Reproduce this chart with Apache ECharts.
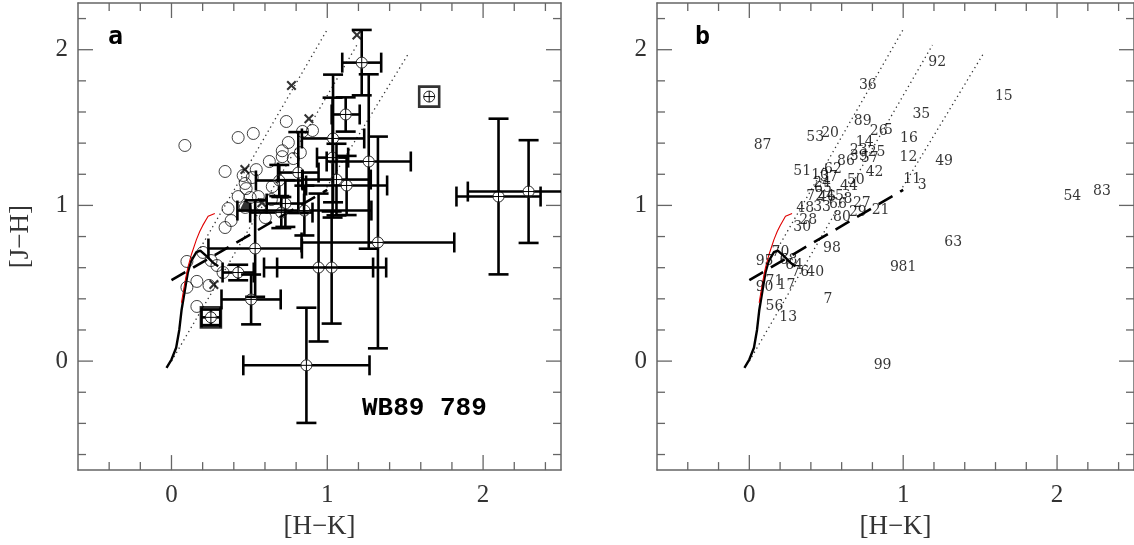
<!DOCTYPE html>
<html><head><meta charset="utf-8">
<script src="https://cdn.jsdelivr.net/npm/echarts@6/dist/echarts.min.js"></script>
<style>html,body{margin:0;padding:0;background:#fff}#c{width:1134px;height:545px}</style>
</head><body><div id="c"></div>
<script>
// ---- source catalogue (panel b labels, panel a markers) ----
const srcLabels = ['87','36','92','15','35','89','53','20','26','5','16','14','23','39','25','57','12','49','86','42','51','10','62','37','50','44','11','3','24','65','72','46','45','8','48','33','66','27','29','80','21','28','30','98','63','54','83','70','95','68','64','76','40','9','81','71','17','90','56','13','7','99'];
const srcHK = [0.086,0.770,1.221,1.654,1.118,0.737,0.428,0.525,0.841,0.905,1.037,0.750,0.711,0.711,0.827,0.782,1.034,1.266,0.628,0.814,0.344,0.460,0.544,0.518,0.692,0.647,1.059,1.124,0.473,0.479,0.428,0.505,0.557,0.641,0.363,0.473,0.576,0.731,0.705,0.602,0.853,0.383,0.344,0.537,1.325,2.099,2.292,0.202,0.099,0.254,0.292,0.331,0.428,0.944,1.028,0.163,0.241,0.099,0.163,0.253,0.511,0.866];
const srcJH = [1.385,1.770,1.917,1.699,1.584,1.539,1.436,1.462,1.475,1.481,1.430,1.404,1.351,1.313,1.339,1.301,1.307,1.282,1.282,1.211,1.218,1.192,1.230,1.179,1.160,1.121,1.166,1.128,1.141,1.108,1.057,1.051,1.057,1.038,0.980,0.987,1.006,1.012,0.954,0.922,0.967,0.903,0.858,0.723,0.762,1.057,1.089,0.698,0.640,0.646,0.614,0.569,0.569,0.601,0.601,0.512,0.486,0.474,0.351,0.281,0.396,-0.027];
// marker kind in panel a: o = open circle, e = circle-plus with error bars, x = cross, b = boxed circle-plus
const srcKind = ['o','x','e','b','e','o','o','o','o','o','e','o','o','o','o','o','e','e','o','e','o','o','o','o','e','o','e','e','o','o','o','o','o','o','o','o','o','e','e','o','e','o','o','e','e','e','e','o','o','o','o','o','e','e','e','o','o','o','o','b','e','e'];
// half-widths of error bars in [H-K] and [J-H] (0 = none)
const srcErrHK = [0,0,0.125,0,0.09,0,0,0,0,0,0.2,0,0,0,0,0,0.1,0.27,0,0.13,0,0,0,0,0.15,0,0.22,0.26,0,0,0,0,0,0,0,0,0,0.12,0.2,0,0.43,0,0,0.3,0.49,0.27,0.39,0,0,0,0,0,0.1,0.35,0.35,0,0,0,0,0.06,0.19,0.405];
const srcErrJH = [0,0,0.21,0,0.11,0,0,0,0,0,0.41,0,0,0,0,0,0.385,0.56,0,0.26,0,0,0,0,0.1,0,0.23,0.19,0,0,0,0,0,0,0,0,0,0.15,0.1,0,0.16,0,0,0.31,0.68,0.5,0.33,0,0,0,0,0,0.05,0.475,0.36,0,0,0,0,0.05,0.16,0.37];
// unlabeled markers in panel a
const crossHK = [1.19,0.882,0.471,0.58,0.272];
const crossJH = [2.095,1.556,1.23,1.017,0.492];
const triHK = [0.478];
const triJH = [1.005];
// loci
const dwarfHK = [-0.032,0.0,0.03,0.05,0.065,0.085,0.105,0.125,0.16,0.185,0.225,0.267,0.30];
const dwarfJH = [-0.043,0.01,0.086,0.2,0.33,0.45,0.57,0.64,0.70,0.71,0.674,0.632,0.61];
const giantHK = [0.064,0.085,0.105,0.128,0.16,0.182,0.2,0.235,0.278];
const giantJH = [0.375,0.5,0.6,0.685,0.78,0.834,0.87,0.93,0.948];
const cttsHK = [0.0,1.0];
const cttsJH = [0.52,1.10];
const red1HK = [0.17,1.0], red1JH = [0.70,2.13];
const red2HK = [0.0,1.19], red2JH = [0.0,2.03];
const red3HK = [0.98,1.526], red3JH = [1.09,1.983];
// ticks
const xMinorTicks = [-0.4,-0.2,0.2,0.4,0.6,0.8,1.2,1.4,1.6,1.8,2.2,2.4];
const xMajorTicks = [0,1,2];
const yMinorTicks = [-0.6,-0.4,-0.2,0.2,0.4,0.6,0.8,1.2,1.4,1.6,1.8,2.2];
const yMajorTicks = [0,1,2];

const SERIF = "'Liberation Serif','DejaVu Serif',serif";
const zip = (a,b) => a.map((v,i)=>[v,b[i]]);

const chart = echarts.init(document.getElementById('c'));
const grids = [
  {left:78, top:3, width:483, height:467.5},
  {left:657, top:3, width:483, height:467.5}
];
const xAxes = [], yAxes = [], series = [];
const isInt = v => Math.abs(v - Math.round(v)) < 1e-6 && Math.round(v) >= 0 && Math.round(v) <= 2;
for (let g = 0; g < 2; g++) {
  xAxes.push({gridIndex:g, type:'value', min:-0.6, max:2.5, interval:0.2, position:'bottom',
    axisLine:{show:true, onZero:false, lineStyle:{color:'#666', width:1.5}}, axisTick:{show:false}, splitLine:{show:false},
    axisLabel:{formatter:v=>isInt(v)?String(Math.round(v)):'', fontFamily:SERIF, fontSize:25, color:'#333', margin:13, showMinLabel:false, showMaxLabel:false},
    name:'[H\u2212K]', nameLocation:'middle', nameGap:40, nameTextStyle:{fontFamily:SERIF, fontSize:27, color:'#333'}});
  xAxes.push({gridIndex:g, type:'value', min:-0.6, max:2.5, interval:0.2, position:'top',
    axisLine:{show:true, onZero:false, lineStyle:{color:'#666', width:1.5}}, axisTick:{show:false}, splitLine:{show:false}, axisLabel:{show:false}});
  yAxes.push({gridIndex:g, type:'value', min:-0.7, max:2.3, interval:0.1, position:'left',
    axisLine:{show:true, onZero:false, lineStyle:{color:'#666', width:1.5}}, axisTick:{show:false}, splitLine:{show:false},
    axisLabel:{formatter:v=>isInt(v)?String(Math.round(v)):'', fontFamily:SERIF, fontSize:25, color:'#333', margin:10, showMinLabel:false, showMaxLabel:false},
    name: g===0 ? '[J\u2212H]' : '', nameLocation:'middle', nameGap:44, nameTextStyle:{fontFamily:SERIF, fontSize:27, color:'#333'}});
  yAxes.push({gridIndex:g, type:'value', min:-0.7, max:2.3, interval:0.1, position:'right',
    axisLine:{show:true, onZero:false, lineStyle:{color:'#666', width:1.5}}, axisTick:{show:false}, splitLine:{show:false}, axisLabel:{show:false}});
}
const xi = g => g*2, yi = g => g*2;

// ticks
const tickData = [];
xMinorTicks.forEach(v=>tickData.push([v,0,8]));
xMajorTicks.forEach(v=>tickData.push([v,0,15]));
yMinorTicks.forEach(v=>tickData.push([v,1,8]));
yMajorTicks.forEach(v=>tickData.push([v,1,15]));
function renderTick(params, api) {
  const cs = params.coordSys;
  const v = api.value(0), ax = api.value(1), len = api.value(2);
  const st = {stroke:'#666', lineWidth:1.3};
  if (ax === 0) {
    const px = api.coord([v, 0])[0];
    return {type:'group', children:[
      {type:'line', shape:{x1:px, y1:cs.y+cs.height, x2:px, y2:cs.y+cs.height-len}, style:st},
      {type:'line', shape:{x1:px, y1:cs.y, x2:px, y2:cs.y+len}, style:st}]};
  } else {
    const py = api.coord([0, v])[1];
    return {type:'group', children:[
      {type:'line', shape:{x1:cs.x, y1:py, x2:cs.x+len, y2:py}, style:st},
      {type:'line', shape:{x1:cs.x+cs.width, y1:py, x2:cs.x+cs.width-len, y2:py}, style:st}]};
  }
}

function lineSeries(g, hk, jh, style) {
  return {type:'line', xAxisIndex:xi(g), yAxisIndex:yi(g), data:zip(hk,jh), symbol:'none', silent:true,
    lineStyle:style, z:3, animation:false};
}

const errData = [], circData = [], crossData = [], boxData = [];
srcLabels.forEach((l,i)=>{
  const k = srcKind[i];
  if (k==='o') circData.push([srcHK[i],srcJH[i]]);
  else if (k==='x') crossData.push([srcHK[i],srcJH[i]]);
  else {
    errData.push([srcHK[i],srcJH[i],srcErrHK[i],srcErrJH[i]]);
    if (k==='b') boxData.push([srcHK[i],srcJH[i]]);
  }
});
crossHK.forEach((v,i)=>crossData.push([v,crossJH[i]]));

function renderErr(params, api) {
  const x = api.value(0), y = api.value(1), ex = api.value(2), ey = api.value(3);
  const c = api.coord([x,y]);
  const ch = [];
  const st = {stroke:'#000', lineWidth:2.6};
  const cap = 10;
  if (ex > 0) {
    const l = api.coord([x-ex,y])[0], r = api.coord([x+ex,y])[0];
    ch.push({type:'line', shape:{x1:l,y1:c[1],x2:c[0]-5.5,y2:c[1]}, style:st});
    ch.push({type:'line', shape:{x1:c[0]+5.5,y1:c[1],x2:r,y2:c[1]}, style:st});
    ch.push({type:'line', shape:{x1:l,y1:c[1]-cap,x2:l,y2:c[1]+cap}, style:st});
    ch.push({type:'line', shape:{x1:r,y1:c[1]-cap,x2:r,y2:c[1]+cap}, style:st});
  }
  if (ey > 0) {
    const t = api.coord([x,y+ey])[1], b = api.coord([x,y-ey])[1];
    ch.push({type:'line', shape:{x1:c[0],y1:t,x2:c[0],y2:c[1]-5.5}, style:st});
    ch.push({type:'line', shape:{x1:c[0],y1:c[1]+5.5,x2:c[0],y2:b}, style:st});
    ch.push({type:'line', shape:{x1:c[0]-cap,y1:t,x2:c[0]+cap,y2:t}, style:st});
    ch.push({type:'line', shape:{x1:c[0]-cap,y1:b,x2:c[0]+cap,y2:b}, style:st});
  }
  const thin = {stroke:'#000', lineWidth:1, fill:null};
  ch.push({type:'circle', shape:{cx:c[0],cy:c[1],r:5.5}, style:{stroke:'#222', lineWidth:1, fill:'rgba(0,0,0,0)'}});
  ch.push({type:'line', shape:{x1:c[0]-5.5,y1:c[1],x2:c[0]+5.5,y2:c[1]}, style:thin});
  ch.push({type:'line', shape:{x1:c[0],y1:c[1]-5.5,x2:c[0],y2:c[1]+5.5}, style:thin});
  return {type:'group', children:ch};
}

for (let g = 0; g < 2; g++) {
  series.push({type:'custom', xAxisIndex:xi(g), yAxisIndex:yi(g), data:tickData, renderItem:renderTick, silent:true, z:10, clip:false, animation:false});
  series.push(lineSeries(g, red1HK, red1JH, {color:'#333', width:1.3, type:[1.3,3.5]}));
  series.push(lineSeries(g, red2HK, red2JH, {color:'#333', width:1.3, type:[1.3,3.5]}));
  series.push(lineSeries(g, red3HK, red3JH, {color:'#333', width:1.3, type:[1.3,3.5]}));
  series.push(lineSeries(g, cttsHK, cttsJH, {color:'#000', width:2.6, type:[16,9]}));
  series.push(lineSeries(g, dwarfHK, dwarfJH, {color:'#000', width:2.4}));
  series.push(lineSeries(g, giantHK, giantJH, {color:'#e00000', width:1.1}));
}
// panel a markers
series.push({type:'scatter', xAxisIndex:0, yAxisIndex:0, data:circData, symbol:'circle', symbolSize:12,
  itemStyle:{color:'rgba(0,0,0,0)', borderColor:'#111', borderWidth:1}, silent:true, z:4, animation:false});
series.push({type:'custom', xAxisIndex:0, yAxisIndex:0, data:errData, renderItem:renderErr, clip:true, silent:true, z:5, animation:false});
series.push({type:'scatter', xAxisIndex:0, yAxisIndex:0, data:boxData, symbol:'rect', symbolSize:20,
  itemStyle:{color:'rgba(0,0,0,0)', borderColor:'#000', borderWidth:2.6}, silent:true, z:6, animation:false});
series.push({type:'scatter', xAxisIndex:0, yAxisIndex:0, data:crossData,
  symbol:'path://M0,1.5L1.5,0L5,3.5L8.5,0L10,1.5L6.5,5L10,8.5L8.5,10L5,6.5L1.5,10L0,8.5L3.5,5Z', symbolSize:10,
  itemStyle:{color:'#000'}, silent:true, z:6, animation:false});
series.push({type:'scatter', xAxisIndex:0, yAxisIndex:0, data:zip(triHK,triJH), symbol:'triangle', symbolSize:14,
  itemStyle:{color:'#000'}, silent:true, z:7, animation:false});
// panel b labels
series.push({type:'scatter', xAxisIndex:2, yAxisIndex:2, symbolSize:1, itemStyle:{color:'rgba(0,0,0,0)'},
  data: srcLabels.map((l,i)=>({name:l, value:[srcHK[i],srcJH[i]]})),
  label:{show:true, position:'inside', formatter:p=>p.name, fontFamily:"'DejaVu Serif',serif", fontSize:14, color:'#000'},
  labelLayout:{hideOverlap:false}, silent:true, z:8, animation:false});

chart.setOption({
  animation:false,
  grid: grids,
  xAxis: xAxes,
  yAxis: yAxes,
  series: series,
  graphic: [
    {type:'text', left:108, top:25, style:{text:'a', font:"bold 25px 'DejaVu Sans Mono',monospace", fill:'#000'}},
    {type:'text', left:695, top:25, style:{text:'b', font:"bold 25px 'DejaVu Sans Mono',monospace", fill:'#000'}},
    {type:'text', left:362, top:395, style:{text:'WB89 789', font:"bold 26px 'Liberation Mono','DejaVu Sans Mono',monospace", fill:'#000'}}
  ]
});
</script></body></html>
